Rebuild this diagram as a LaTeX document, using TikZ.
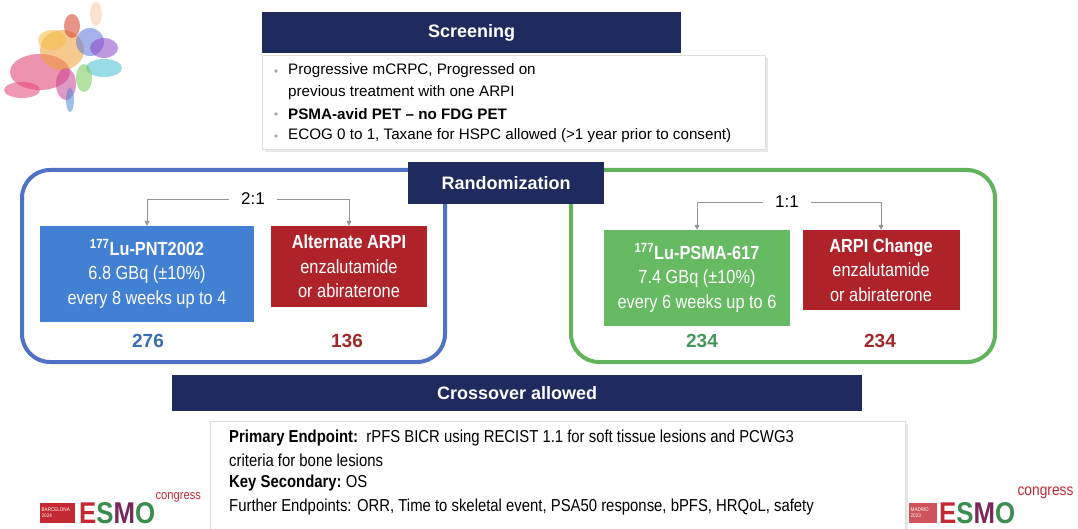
\documentclass[tikz,border=0pt]{standalone}
\usepackage{fontspec}
\setmainfont{Liberation Sans}
\newfontfamily\narrowfont{Liberation Sans}[FakeStretch=0.86]
\usetikzlibrary{arrows.meta}

\definecolor{navy}{RGB}{31,43,94}
\definecolor{frameblue}{RGB}{80,114,196}
\definecolor{boxblue}{RGB}{66,128,212}
\definecolor{boxred}{RGB}{176,34,42}
\definecolor{framegreen}{RGB}{98,180,92}
\definecolor{boxgreen}{RGB}{102,186,98}
\definecolor{numblue}{RGB}{58,108,178}
\definecolor{numred}{RGB}{158,40,40}
\definecolor{numgreen}{RGB}{70,150,92}
\definecolor{linkgray}{RGB}{150,150,150}
\definecolor{esmored}{RGB}{196,40,50}
\definecolor{esmogreen}{RGB}{60,140,80}
\definecolor{esmopurple}{RGB}{120,40,90}

\tikzset{
  header/.style={fill=navy, text=white, font=\bfseries\fontsize{18}{20}\selectfont, inner sep=0pt},
  panel/.style={fill=white, draw=gray!25, line width=0.6pt},
  shade/.style={fill=gray!18},
  frame/.style={line width=4pt, rounded corners=28pt},
  arm/.style={text=white, align=center, inner sep=0pt, font=\narrowfont\fontsize{19}{24.5}\selectfont},
  ratio/.style={fill=white, font=\fontsize{17}{20}\selectfont, inner xsep=12pt, inner ysep=6pt},
  link/.style={draw=linkgray, line width=0.8pt, -{Triangle[length=5pt,width=5pt]}},
  count/.style={font=\bfseries\fontsize{19}{22}\selectfont},
  bullet/.style={anchor=west, font=\fontsize{15.2}{17}\selectfont, inner sep=0pt},
  ept/.style={anchor=west, font=\narrowfont\fontsize{17.3}{20}\selectfont, inner sep=0pt},
  dot/.style={circle, fill=gray!70, inner sep=1.3pt},
  splash/.style={opacity=0.55},
  citytag/.style={text=white, align=left, inner sep=1.5pt, font=\narrowfont\fontsize{5.3}{6}\selectfont,
                  minimum height=20pt, anchor=west},
  esmo/.style={anchor=west, inner sep=0pt, font=\narrowfont\bfseries\fontsize{30}{30}\selectfont},
  congress/.style={anchor=west, inner sep=0pt, text=esmored, font=\narrowfont\fontsize{13}{13}\selectfont}
}

\begin{document}
\begin{tikzpicture}[x=1pt, y=-1pt]
\useasboundingbox (0,0) rectangle (1078,529);
\fill[white] (0,0) rectangle (1078,529);

% paint splash emblem
\begin{scope}
  \fill[splash, color={rgb,255:red,225;green,60;blue,110}] (40,72) ellipse (30 and 18);
  \fill[splash, color={rgb,255:red,230;green,70;blue,120}] (22,90) ellipse (18 and 8);
  \fill[splash, color={rgb,255:red,240;green,160;blue,50}] (62,50) ellipse (22 and 20);
  \fill[splash, color={rgb,255:red,245;green,190;blue,70}] (52,40) ellipse (14 and 10);
  \fill[splash, color={rgb,255:red,210;green,60;blue,40}] (72,26) ellipse (8 and 12);
  \fill[splash, color={rgb,255:red,90;green,120;blue,220}] (90,42) ellipse (14 and 14);
  \fill[splash, color={rgb,255:red,140;green,70;blue,200}] (104,48) ellipse (14 and 10);
  \fill[splash, color={rgb,255:red,70;green,190;blue,210}] (104,68) ellipse (18 and 9);
  \fill[splash, color={rgb,255:red,120;green,200;blue,90}] (84,78) ellipse (8 and 14);
  \fill[splash, color={rgb,255:red,200;green,70;blue,150}] (66,84) ellipse (10 and 16);
  \fill[splash, color={rgb,255:red,80;green,140;blue,210}] (70,100) ellipse (4 and 12);
  \fill[splash, color={rgb,255:red,250;green,200;blue,170}] (96,14) ellipse (6 and 12);
\end{scope}

% screening
\fill[shade] (265,58) rectangle (768,152);
\node[panel, minimum width=503pt, minimum height=94pt, anchor=north west] (scrbox) at (262,55) {};
\node[header, minimum width=419pt, minimum height=41pt, anchor=north west] (scr) at (262,12) {Screening};
\node[dot] (b1) at (276,71) {};
\node[bullet] (s1) at (288,71) {Progressive mCRPC, Progressed on};
\node[bullet] (s2) at (288,93) {previous treatment with one ARPI};
\node[dot] (b2) at (276,114) {};
\node[bullet, font=\bfseries\fontsize{15.2}{17}\selectfont] (s3) at (288,114) {PSMA-avid PET – no FDG PET};
\node[dot] (b3) at (276,136) {};
\node[bullet] (s4) at (288,136) {ECOG 0 to 1, Taxane for HSPC allowed (>1 year prior to consent)};

% arm frames
\draw[frame, draw=frameblue] (22,170) rectangle (445,362);
\draw[frame, draw=framegreen] (571,170) rectangle (995,362);
\node[header, minimum width=196pt, minimum height=42pt, anchor=north west] (rand) at (408,162) {Randomization};

% left arms
\node[ratio] (r21) at (253,199) {2:1};
\node[arm, fill=boxblue, minimum width=214pt, minimum height=96pt] (pnt) at (147,274)
  {{\bfseries\textsuperscript{177}Lu-PNT2002}\\6.8 GBq (±10\%)\\every 8 weeks up to 4};
\node[arm, fill=boxred, minimum width=156pt, minimum height=81pt] (alt) at (349,266.5)
  {{\bfseries Alternate ARPI}\\enzalutamide\\or abiraterone};
\draw[link] (r21.west) -| (pnt.north);
\draw[link] (r21.east) -| (alt.north);
\node[count, text=numblue] (n1) at (148,341) {276};
\node[count, text=numred] (n2) at (347,341) {136};

% right arms
\node[ratio] (r11) at (787,202) {1:1};
\node[arm, fill=boxgreen, minimum width=186pt, minimum height=96pt] (psma) at (697,278)
  {{\bfseries\textsuperscript{177}Lu-PSMA-617}\\7.4 GBq (±10\%)\\every 6 weeks up to 6};
\node[arm, fill=boxred, minimum width=157pt, minimum height=80pt] (chg) at (881,270)
  {{\bfseries ARPI Change}\\enzalutamide\\or abiraterone};
\draw[link] (r11.west) -| (psma.north);
\draw[link] (r11.east) -| (chg.north);
\node[count, text=numgreen] (n3) at (702,341) {234};
\node[count, text=numred] (n4) at (880,341) {234};

% crossover and endpoints
\node[header, minimum width=690pt, minimum height=36pt, anchor=north west] (cross) at (172,375) {Crossover allowed};
\fill[shade] (213,424) rectangle (908,532);
\node[panel, minimum width=695pt, minimum height=112pt, anchor=north west] (epbox) at (210,421) {};
\node[ept] (e1) at (229,438) {\bfseries Primary Endpoint:\mdseries\ \ rPFS BICR using RECIST 1.1 for soft tissue lesions and PCWG3};
\node[ept] (e2) at (229,460) {criteria for bone lesions};
\node[ept] (e3) at (229,483) {\bfseries Key Secondary:\mdseries\ OS};
\node[ept] (e4) at (229,507) {Further Endpoints: ORR, Time to skeletal event, PSA50 response, bPFS, HRQoL, safety};

% congress logos
\node[citytag, fill=esmored, minimum width=35pt, text width=32pt] (bcn) at (40,513) {BARCELONA\\2024};
\node[esmo] (esmo1) at (79,513)
  {\textcolor{esmored}{E}\textcolor{esmogreen}{S}\textcolor{esmopurple}{M}\textcolor{esmogreen}{O}};
\node[congress] (cg1) at (esmo1.east |- 0,497) {congress};
\node[citytag, fill=esmored!80, minimum width=28pt, text width=25pt] (mad) at (909,513) {MADRID\\2023};
\node[esmo] (esmo2) at (939,513)
  {\textcolor{esmored}{E}\textcolor{esmogreen}{S}\textcolor{esmopurple}{M}\textcolor{esmogreen}{O}};
\node[congress, font=\narrowfont\fontsize{16}{16}\selectfont] (cg2) at ([xshift=2pt]esmo2.east |- 0,493) {congress};
\end{tikzpicture}
\end{document}
